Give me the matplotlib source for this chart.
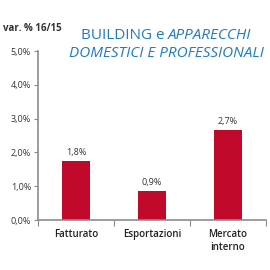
import matplotlib.pyplot as plt

categories = ["Fatturato", "Esportazioni", "Mercato\ninterno"]
values = [1.75, 0.87, 2.65]
value_labels = ["1,8%", "0,9%", "2,7%"]
yticks = [0, 1, 2, 3, 4, 5]
ytick_labels = ["0,0%", "1,0%", "2,0%", "3,0%", "4,0%", "5,0%"]

bar_color = "#c10a2b"
title_color = "#1f7cc1"
axis_color = "#8c8c8c"

plt.rcParams["font.family"] = ["Open Sans", "DejaVu Sans"]

fig = plt.figure(figsize=(2.7, 2.7), dpi=100)
ax = fig.add_axes([0.141, 0.185, 0.844, 0.626])

x = range(len(categories))
ax.bar(x, values, width=0.38, color=bar_color)
for i, v in enumerate(values):
    ax.text(i, v + 0.12, value_labels[i], ha="center", va="bottom", fontsize=6.5, color="#333333")

ax.set_xlim(-0.5, len(categories) - 0.5)
ax.set_ylim(0, 5)
ax.set_yticks(yticks)
ax.set_yticklabels(ytick_labels, fontsize=6.5, color="#333333")
ax.set_xticks([i - 0.5 for i in range(len(categories) + 1)])
ax.set_xticklabels([])
ax.tick_params(axis="y", length=3, color=axis_color, pad=2)
ax.tick_params(axis="x", length=4, color=axis_color)
for i, c in enumerate(categories):
    ax.text(i, -0.25, c, ha="center", va="top", fontsize=7, fontweight="semibold",
            color="#222222", linespacing=1.3)

for s in ["top", "right"]:
    ax.spines[s].set_visible(False)
for s in ["left", "bottom"]:
    ax.spines[s].set_color(axis_color)
    ax.spines[s].set_linewidth(1.2)

fig.text(0.012, 0.896, "var. % 16/15", fontsize=7, fontweight="bold", color="#333333", va="center")

# title: first line mixes upright and italic, so measure and center by hand
tsize = 11
cx = 0.615
t1 = fig.text(0, 0.87, "BUILDING e ", fontsize=tsize, color=title_color, va="center", fontweight="medium")
t2 = fig.text(0, 0.87, "APPARECCHI", fontsize=tsize, color=title_color, va="center",
              style="italic", fontweight="medium")
r = fig.canvas.get_renderer()
w1 = t1.get_window_extent(r).width / fig.bbox.width
w2 = t2.get_window_extent(r).width / fig.bbox.width
start = cx - (w1 + w2) / 2
t1.set_x(start)
t2.set_x(start + w1)
fig.text(cx, 0.802, "DOMESTICI E PROFESSIONALI", fontsize=tsize, color=title_color, ha="center",
         va="center", style="italic", fontweight="medium")

fig.savefig("out.png", dpi=100)
